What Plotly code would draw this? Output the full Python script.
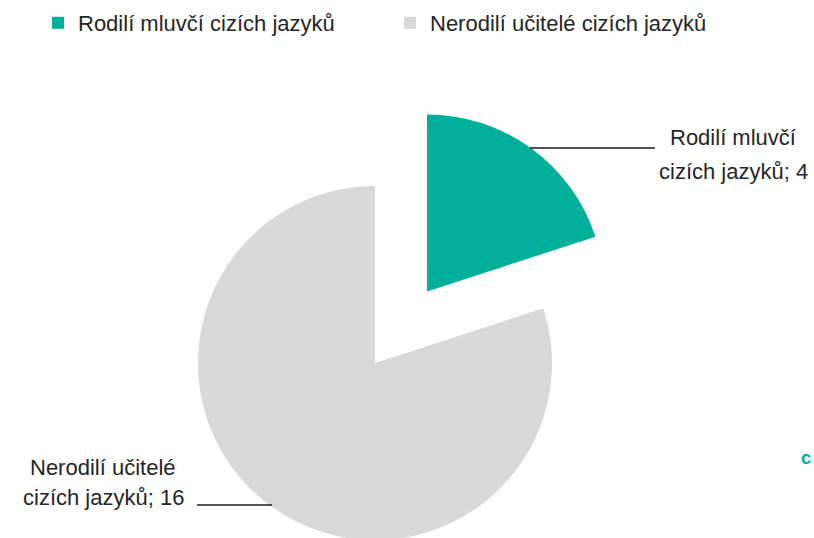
import plotly.graph_objects as go

# ---- data ----
categories = ["Rodilí mluvčí cizích jazyků", "Nerodilí učitelé cizích jazyků"]
values = [4, 16]
colors = ["#00B09B", "#D9D9D9"]
pulls = [0.5, 0.0]

# ---- canvas ----
W, H = 814, 640
FONT = "Liberation Sans, Arial, sans-serif"


def px(x):
    return x / W


def py(y):
    return 1 - y / H


# pie geometry (pixels): center & radius of the un-pulled pie
cx, cy, r = 375, 363, 177
box = 2 * r * (1 + max(pulls))

fig = go.Figure()
fig.add_trace(go.Pie(
    labels=categories,
    values=values,
    marker=dict(colors=colors, line=dict(width=0)),
    pull=pulls,
    sort=False,
    direction="clockwise",
    rotation=0,
    textinfo="none",
    hoverinfo="label+value",
    domain=dict(x=[px(cx - box / 2), px(cx + box / 2)],
                y=[py(cy + box / 2), py(cy - box / 2)]),
))


def wrap(label, value):
    w = label.split()
    return " ".join(w[:2]), " ".join(w[2:]) + f"; {value}"


# data labels (two lines each) with leader lines
label_pos = [(733, 138, 171), (103, 467, 497)]
leaders = [((530, 148), (655, 148)), ((197, 505), (272, 505))]
for (lab, val), (lx, y1, y2), ((x0, ly0), (x1, ly1)) in zip(
        zip(categories, values), label_pos, leaders):
    l1, l2 = wrap(lab, val)
    for txt, yy in ((l1, y1), (l2, y2)):
        fig.add_annotation(text=txt, x=px(lx), y=py(yy), xref="paper", yref="paper",
                           xanchor="center", yanchor="middle", showarrow=False,
                           font=dict(family=FONT, size=22, color="#262626"))
    fig.add_shape(type="line", xref="paper", yref="paper",
                  x0=px(x0), y0=py(ly0), x1=px(x1), y1=py(ly1),
                  line=dict(color="#1a1a1a", width=1.5))

# small stray green glyph at the right edge
fig.add_annotation(text="<b>c</b>", x=px(799), y=py(458), xref="paper", yref="paper",
                   xanchor="left", yanchor="middle", showarrow=False,
                   font=dict(family=FONT, size=18, color=colors[0]))

fig.update_layout(
    width=W, height=H,
    margin=dict(l=0, r=0, t=0, b=0),
    paper_bgcolor="white",
    plot_bgcolor="white",
    showlegend=True,
    legend=dict(orientation="h", x=px(38), xanchor="left", y=py(2), yanchor="top",
                font=dict(family=FONT, size=22, color="#262626"),
                entrywidth=307, entrywidthmode="pixels",
                itemsizing="constant", traceorder="normal"),
)

fig.write_html("out.html",
               config={"displayModeBar": False},
               post_script="document.documentElement.style.overflow='hidden';"
                           "document.body.style.overflow='hidden';"
                           "document.body.style.margin='0';")
